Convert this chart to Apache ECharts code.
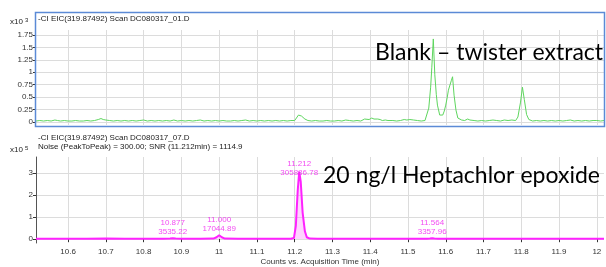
<!DOCTYPE html>
<html>
<head>
<meta charset="utf-8">
<script src="https://cdn.jsdelivr.net/npm/echarts@6/dist/echarts.min.js"></script>
<style>
  html, body { margin: 0; padding: 0; background: #fff; }
  #chart { width: 606px; height: 267px; }
</style>
</head>
<body>
<div id="chart"></div>
<script>
// x tick positions (min) and their labels
const xTicks = [10.6, 10.7, 10.8, 10.9, 11, 11.1, 11.2, 11.3, 11.4, 11.5, 11.6, 11.7, 11.8, 11.9, 12]
const xTickLabels = ['10.6', '10.7', '10.8', '10.9', '11', '11.1', '11.2', '11.3', '11.4', '11.5', '11.6', '11.7', '11.8', '11.9', '12']
// top panel y ticks (x10^3) and bottom panel y ticks (x10^5)
const blankTicks = [0, 0.25, 0.5, 0.75, 1, 1.25, 1.5, 1.75]
const blankTickLabels = ['0', '0.25', '0.5', '0.75', '1', '1.25', '1.5', '1.75']
const sampleTicks = [0, 1, 2, 3]
const sampleTickLabels = ['0', '1', '2', '3']

// blank - twister extract trace, [time, counts x10^3]
const blankTrace = [
  [10.515, 0.02], [10.525, 0.03], [10.535, 0.02], [10.545, 0.03], [10.555, 0.02], [10.565, 0.04], [10.568, 0.05],
  [10.572, 0.03], [10.58, 0.02], [10.59, 0.03], [10.6, 0.02], [10.61, 0.02], [10.62, 0.03], [10.63, 0.02],
  [10.64, 0.02], [10.65, 0.03], [10.66, 0.02], [10.67, 0.03], [10.675, 0.04], [10.68, 0.05], [10.687, 0.07],
  [10.693, 0.05], [10.7, 0.04], [10.705, 0.05], [10.71, 0.03], [10.72, 0.02], [10.73, 0.03], [10.74, 0.02],
  [10.75, 0.03], [10.76, 0.02], [10.77, 0.03], [10.78, 0.02], [10.79, 0.03], [10.8, 0.04], [10.81, 0.02],
  [10.82, 0.03], [10.83, 0.02], [10.84, 0.03], [10.85, 0.02], [10.86, 0.03], [10.87, 0.02], [10.88, 0.04],
  [10.89, 0.02], [10.9, 0.03], [10.91, 0.02], [10.92, 0.03], [10.93, 0.02], [10.94, 0.03], [10.95, 0.04],
  [10.96, 0.02], [10.97, 0.03], [10.98, 0.02], [10.99, 0.03], [11.0, 0.02], [11.01, 0.03], [11.02, 0.02],
  [11.03, 0.02], [11.04, 0.03], [11.05, 0.02], [11.06, 0.03], [11.07, 0.04], [11.08, 0.02], [11.09, 0.03],
  [11.1, 0.02], [11.11, 0.03], [11.12, 0.02], [11.13, 0.03], [11.14, 0.02], [11.15, 0.03], [11.16, 0.02],
  [11.17, 0.03], [11.18, 0.02], [11.19, 0.03], [11.2, 0.03], [11.205, 0.06], [11.21, 0.14], [11.214, 0.18],
  [11.218, 0.12], [11.222, 0.11], [11.227, 0.06], [11.235, 0.03], [11.245, 0.02], [11.255, 0.03], [11.265, 0.02],
  [11.275, 0.02], [11.285, 0.03], [11.295, 0.02], [11.305, 0.02], [11.315, 0.03], [11.325, 0.02], [11.335, 0.04],
  [11.34, 0.05], [11.345, 0.03], [11.355, 0.02], [11.365, 0.03], [11.375, 0.02], [11.385, 0.06], [11.39, 0.03],
  [11.397, 0.05], [11.404, 0.08], [11.41, 0.06], [11.415, 0.05], [11.42, 0.06], [11.426, 0.05], [11.432, 0.03],
  [11.44, 0.04], [11.447, 0.03], [11.452, 0.05], [11.46, 0.03], [11.47, 0.02], [11.48, 0.03], [11.49, 0.05],
  [11.497, 0.04], [11.505, 0.05], [11.515, 0.04], [11.525, 0.03], [11.535, 0.02], [11.545, 0.03], [11.55, 0.06],
  [11.555, 0.28], [11.56, 0.7], [11.563, 1.09], [11.567, 1.67], [11.571, 0.95], [11.575, 0.55], [11.578, 0.34],
  [11.584, 0.14], [11.588, 0.1], [11.592, 0.14], [11.596, 0.22], [11.6, 0.34], [11.604, 0.5], [11.607, 0.64],
  [11.611, 0.6], [11.615, 0.84], [11.618, 0.91], [11.622, 0.54], [11.627, 0.24], [11.632, 0.08], [11.637, 0.05],
  [11.642, 0.04], [11.65, 0.03], [11.658, 0.06], [11.664, 0.04], [11.669, 0.05], [11.675, 0.03], [11.685, 0.02],
  [11.695, 0.03], [11.705, 0.02], [11.715, 0.03], [11.725, 0.04], [11.73, 0.07], [11.735, 0.03], [11.745, 0.02],
  [11.755, 0.04], [11.765, 0.03], [11.775, 0.04], [11.785, 0.03], [11.791, 0.1], [11.798, 0.4], [11.803, 0.7],
  [11.808, 0.45], [11.814, 0.15], [11.82, 0.05], [11.83, 0.02], [11.84, 0.03], [11.85, 0.02], [11.86, 0.03],
  [11.87, 0.02], [11.88, 0.03], [11.89, 0.02], [11.9, 0.03], [11.91, 0.02], [11.92, 0.03], [11.93, 0.04],
  [11.94, 0.02], [11.95, 0.03], [11.96, 0.02], [11.97, 0.03], [11.98, 0.02], [11.99, 0.03], [12.0, 0.03],
  [12.01, 0.02], [12.019, 0.03]
]

// 20 ng/l heptachlor epoxide trace, [time, counts x10^5]
const sampleTrace = [
  [10.515, 0.01], [10.55, 0.01], [10.6, 0.01], [10.65, 0.01], [10.7, 0.02], [10.75, 0.01], [10.8, 0.01],
  [10.85, 0.01], [10.87, 0.02], [10.877, 0.035], [10.885, 0.02], [10.9, 0.01], [10.95, 0.01], [10.985, 0.02],
  [10.993, 0.08], [11.0, 0.17], [11.007, 0.08], [11.015, 0.02], [11.05, 0.01], [11.1, 0.01], [11.15, 0.01],
  [11.19, 0.01], [11.198, 0.05], [11.203, 0.6], [11.208, 2.2], [11.212, 3.06], [11.216, 2.6], [11.221, 1.2],
  [11.227, 0.35], [11.232, 0.08], [11.24, 0.02], [11.26, 0.01], [11.3, 0.01], [11.35, 0.01], [11.4, 0.01],
  [11.45, 0.01], [11.5, 0.01], [11.55, 0.01], [11.558, 0.02], [11.564, 0.034], [11.57, 0.02], [11.58, 0.01],
  [11.65, 0.01], [11.7, 0.01], [11.75, 0.01], [11.8, 0.01], [11.85, 0.01], [11.9, 0.01], [11.95, 0.01],
  [12.0, 0.01], [12.019, 0.01]
]

// annotated peaks
const peakTimes = ['10.877', '11.000', '11.212', '11.564']
const peakAreas = ['3535.22', '17044.89', '305886.78', '3357.96']
const peakApex = [[10.877, 0.035], [11.0, 0.17], [11.212, 3.06], [11.564, 0.034]]

const chart = echarts.init(document.getElementById('chart'))

const smallFont = 'Liberation Sans, Arial, sans-serif'
const gridColor = '#dcdcdc'

function xAxisFor (gridIndex, showLabels) {
  return {
    type: 'value',
    gridIndex: gridIndex,
    min: 10.515,
    max: 12.019,
    axisLine: { show: false },
    axisTick: {
      show: showLabels,
      customValues: xTicks,
      length: 3,
      lineStyle: { color: '#333' }
    },
    axisLabel: {
      show: showLabels,
      customValues: xTicks,
      formatter: v => xTickLabels[xTicks.findIndex(t => Math.abs(t - v) < 1e-6)] || '',
      fontSize: 8,
      fontFamily: smallFont,
      color: '#333',
      margin: 5
    },
    splitLine: { show: true, lineStyle: { color: gridColor, width: 1 } },
    name: showLabels ? 'Counts vs. Acquisition Time (min)' : '',
    nameLocation: 'middle',
    nameGap: 15,
    nameTextStyle: { fontSize: 8, fontFamily: smallFont, color: '#333' }
  }
}

function yAxisFor (gridIndex, min, max, ticks, labels) {
  return {
    type: 'value',
    gridIndex: gridIndex,
    min: min,
    max: max,
    axisLine: { show: gridIndex === 1, lineStyle: { color: '#555' } },
    axisTick: { show: true, customValues: ticks, length: 3, lineStyle: { color: '#333' } },
    axisLabel: {
      customValues: ticks,
      formatter: v => labels[ticks.findIndex(t => Math.abs(t - v) < 1e-6)] || '',
      fontSize: 8,
      fontFamily: smallFont,
      color: '#333',
      margin: 3
    },
    splitLine: { show: true, lineStyle: { color: gridColor, width: 1 } }
  }
}

const option = {
  animation: false,
  backgroundColor: '#fff',
  grid: [
    { left: 36, top: 30, width: 568, height: 95 },
    { left: 36, top: 157, width: 568, height: 88 }
  ],
  xAxis: [xAxisFor(0, false), xAxisFor(1, true)],
  yAxis: [
    yAxisFor(0, -0.06, 1.85, blankTicks, blankTickLabels),
    yAxisFor(1, -0.18, 3.72, sampleTicks, sampleTickLabels)
  ],
  series: [
    {
      type: 'line',
      xAxisIndex: 0,
      yAxisIndex: 0,
      data: blankTrace,
      symbol: 'none',
      lineStyle: { color: '#5ed65e', width: 1 }
    },
    {
      type: 'line',
      xAxisIndex: 1,
      yAxisIndex: 1,
      data: sampleTrace,
      symbol: 'none',
      lineStyle: { color: '#ff22ff', width: 2 },
      areaStyle: { color: 'rgba(255, 120, 255, 0.45)' }
    },
    {
      type: 'scatter',
      xAxisIndex: 1,
      yAxisIndex: 1,
      symbolSize: 0,
      data: peakApex.map((p, i) => ({
        value: p,
        label: { offset: i === 2 ? [0, 8] : [0, 0] }
      })),
      label: {
        show: true,
        position: 'top',
        distance: 2,
        formatter: p => peakTimes[p.dataIndex] + '\n' + peakAreas[p.dataIndex],
        fontSize: 8,
        lineHeight: 9,
        fontFamily: smallFont,
        color: '#f020f0'
      },
      z: 5
    }
  ],
  graphic: [
    {
      type: 'rect',
      shape: { x: 35.5, y: 12.5, width: 569, height: 114 },
      style: { fill: 'none', stroke: '#5b8ad6', lineWidth: 1.5 },
      z: 10
    },
    {
      type: 'text', left: 38, top: 15,
      style: { text: '-CI EIC(319.87492) Scan DC080317_01.D', fontSize: 8, fontFamily: smallFont, fill: '#222' }
    },
    {
      type: 'text', left: 38, top: 134,
      style: { text: '-CI EIC(319.87492) Scan DC080317_07.D', fontSize: 8, fontFamily: smallFont, fill: '#222' }
    },
    {
      type: 'text', left: 38, top: 143,
      style: { text: 'Noise (PeakToPeak) = 300.00; SNR (11.212min) = 1114.9', fontSize: 8, fontFamily: smallFont, fill: '#222' }
    },
    {
      type: 'text', left: 10, top: 17,
      style: {
        text: 'x10 {s|3}',
        fontSize: 8, fontFamily: smallFont, fill: '#222',
        rich: { s: { fontSize: 6, verticalAlign: 'top', padding: [0, 0, 4, 0] } }
      }
    },
    {
      type: 'text', left: 10, top: 145,
      style: {
        text: 'x10 {s|5}',
        fontSize: 8, fontFamily: smallFont, fill: '#222',
        rich: { s: { fontSize: 6, verticalAlign: 'top', padding: [0, 0, 4, 0] } }
      }
    },
    {
      type: 'text', left: 375, top: 41,
      style: { text: 'Blank \u2013 twister extract', fontSize: 23, fontFamily: 'Lato', fill: '#000' },
      z: 20
    },
    {
      type: 'text', left: 323, top: 164,
      style: { text: '20 ng/l Heptachlor epoxide', fontSize: 23, fontFamily: 'Lato', fill: '#000' },
      z: 20
    }
  ]
}

chart.setOption(option)

window.addEventListener('resize', () => {
  chart.resize()
})
</script>
</body>
</html>
